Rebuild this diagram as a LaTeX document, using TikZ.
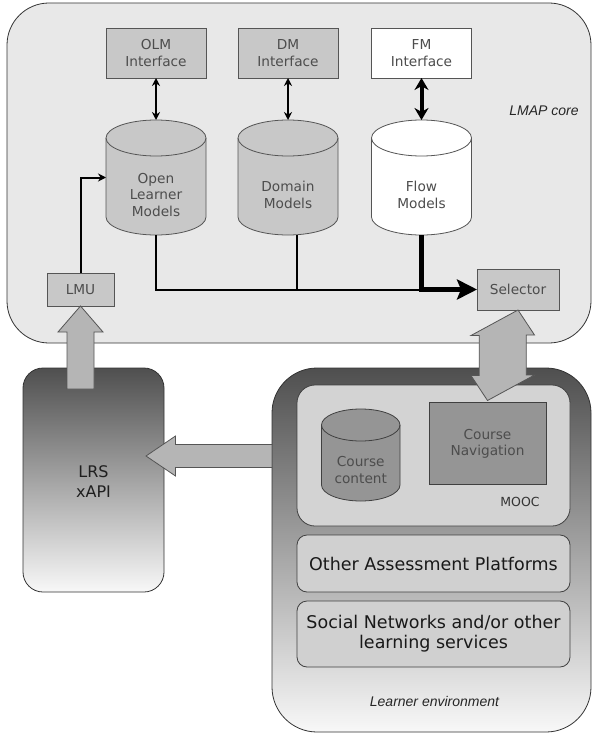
\documentclass[tikz,border=0pt]{standalone}
\usepackage{fontspec}
\setmainfont{DejaVu Sans}
\newfontfamily\lblfont{Liberation Sans}
\usetikzlibrary{arrows.meta,calc}

\definecolor{corefill}{HTML}{E8E8E8}
\definecolor{coreedge}{HTML}{333333}
\definecolor{boxfill}{HTML}{C8C8C8}
\definecolor{boxedge}{HTML}{555555}
\definecolor{boxtext}{HTML}{4D4D4D}
\definecolor{arrowfill}{HTML}{B5B5B5}
\definecolor{moocfill}{HTML}{D3D3D3}
\definecolor{platfill}{HTML}{D0D0D0}
\definecolor{darkfill}{HTML}{959595}
\definecolor{darkedge}{HTML}{404040}
\definecolor{gradtop}{HTML}{4F4F4F}
\definecolor{gradbot}{HTML}{F8F8F8}

% cylinder outline: left x, right x, top y, bottom y, ellipse y radius, fill colour, edge colour
\newcommand\dbcylinder[7]{%
  \pgfmathsetmacro\cylrx{(#2-#1)/2}%
  \filldraw[fill=#6, draw=#7, line width=0.8pt]
    (#1,#4-#5) arc[start angle=180,end angle=360,x radius=\cylrx pt,y radius=#5 pt]
    -- (#2,#3+#5) arc[start angle=0,end angle=180,x radius=\cylrx pt,y radius=#5 pt] -- cycle;
  \draw[#7, line width=0.8pt]
    (#1,#3+#5) arc[start angle=180,end angle=360,x radius=\cylrx pt,y radius=#5 pt];
}

\begin{document}
\begin{tikzpicture}[x=1pt,y=-1pt,
  every node/.style={inner sep=0pt, outer sep=0pt},
  txt/.style={font=\fontsize{13.7}{16.5}\selectfont, align=center, text=boxtext},
  ifbox/.style={txt, draw=boxedge, fill=boxfill, line width=0.8pt, minimum width=100pt, minimum height=50pt},
  smallbox/.style={txt, draw=boxedge, fill=boxfill, line width=0.8pt},
  region/.style={draw=coreedge, line width=0.8pt},
  shade/.style={region, top color=gradtop, bottom color=gradbot},
  platform/.style={draw=darkedge, fill=platfill, line width=0.8pt, rounded corners=10pt,
    minimum width=273pt, align=center, text=black!90,
    font=\fontsize{17.5}{20}\selectfont},
  cylhold/.style={minimum width=100pt, minimum height=115pt},
  blockarrow/.style={fill=arrowfill, draw=boxedge, line width=0.8pt, line join=miter},
  thinline/.style={line width=2pt},
  thickline/.style={line width=4.5pt},
  tag/.style={font=\lblfont\itshape\fontsize{14}{16}\selectfont, text=black!85}
]
\useasboundingbox (0,0) rectangle (592,733);

% ---------- LMAP core ----------
\node[region, fill=corefill, rounded corners=42pt, minimum width=584pt, minimum height=340pt,
      anchor=north west] (core) at (7,3) {};
\node[tag] (coretag) at (544,111) {LMAP core};

\node[ifbox] (olmi) at (156,53) {OLM\\Interface};
\node[ifbox] (dmi)  at (288,53) {DM\\Interface};
\node[ifbox, fill=white] (fmi) at (421.5,53) {FM\\Interface};

\dbcylinder{106}{206}{120}{235}{18}{boxfill}{boxedge}
\dbcylinder{238}{338}{120}{235}{18}{boxfill}{boxedge}
\dbcylinder{371.5}{471.5}{120}{235}{18}{white}{boxedge}
\node[cylhold] (olm) at (156,177.5) {};
\node[cylhold] (dm)  at (288,177.5) {};
\node[cylhold] (fm)  at (421.5,177.5) {};
\node[txt] (olmtxt) at (156,195) {Open\\Learner\\Models};
\node[txt] (dmtxt)  at (288,195) {Domain\\Models};
\node[txt] (fmtxt)  at (421.5,195) {Flow\\Models};

\node[smallbox, minimum width=82pt, minimum height=41pt] (selector) at (518,289.5) {Selector};
\node[smallbox, minimum width=67pt, minimum height=33pt] (lmu) at (80.5,289.5) {LMU};

% interface links
\draw[line width=1.8pt, {Stealth[length=8pt,width=8pt]}-{Stealth[length=8pt,width=8pt]}]
  (olmi.south) -- (olm.north);
\draw[line width=1.8pt, {Stealth[length=8pt,width=8pt]}-{Stealth[length=8pt,width=8pt]}]
  (dmi.south) -- (dm.north);
\draw[line width=4pt, {Stealth[length=12pt,width=14pt]}-{Stealth[length=12pt,width=14pt]}]
  (fmi.south) -- (fm.north);

% models feeding the selector
\coordinate (join) at (421.5,289.5);
\draw[thinline] (olm.south) |- (join);
\draw[thinline] ($(dm.south)+(9,0)$) -- ++(0,54.5);
\draw[thickline, -{Stealth[length=20pt,width=20pt,inset=4pt]}] (fm.south) |- (selector.west);

% LMU updates the open learner models
\draw[thinline, -{Stealth[length=8pt,width=8pt]}] (lmu.north) |- (olm.west);

% ---------- LRS ----------
\node[shade, rounded corners=20pt, minimum width=141pt, minimum height=224pt] (lrs) at (93.5,480) {};
\node[font=\fontsize{16}{20}\selectfont, align=center, text=black!88] (lrstxt) at (93.5,482) {LRS\\xAPI};

% ---------- Learner environment ----------
\node[shade, rounded corners=45pt, minimum width=319pt, minimum height=364pt,
      anchor=north west] (le) at (272,368) {};
\node[tag] (letag) at (434.5,701) {Learner environment};

\node[draw=darkedge, fill=moocfill, line width=0.8pt, rounded corners=18pt,
      minimum width=273pt, minimum height=141pt, anchor=north west] (mooc) at (297,385) {};
\node[font=\fontsize{12.5}{14}\selectfont, text=black!80] (mooctag) at (520,502) {MOOC};

\dbcylinder{321.5}{400}{409}{501}{16}{darkfill}{darkedge}
\node[minimum width=78.5pt, minimum height=92pt] (cc) at (360.75,455) {};
\node[txt] (cctxt) at (360.75,470) {Course\\content};

\node[txt, draw=darkedge, fill=darkfill, line width=0.8pt, minimum width=117pt, minimum height=82pt]
  (nav) at (487.5,443) {};
\node[txt] (navtxt) at (487.5,444) {Course\\Navigation};

\node[platform, minimum height=57pt] (oap) at (433.5,563.5) {Other Assessment Platforms};
\node[platform, minimum height=66pt] (soc) at (433.5,634) {Social Networks and/or other\\learning services};

% ---------- block arrows ----------
% learner environment reports to the LRS
\coordinate (lrsin) at (146,456);
\filldraw[blockarrow] (lrsin) -- ++(29.5,-20) -- ++(0,8.5) -- (le.west |- {(0,444.5)})
  -- (le.west |- {(0,467.5)}) -- ++(-96.5,0) -- ++(0,8.5) -- cycle;

% LRS feeds the LMU
\filldraw[blockarrow] (lmu.south) -- ++(22.5,26) -- ++(-9,0) -- ++(0,57) -- ++(-27,0)
  -- ++(0,-57) -- ++(-9,0) -- cycle;

% selector <-> course navigation
\filldraw[blockarrow] (selector.south) -- ++(16.5,25) -- ++(-8.2,0) -- ++(0,40) -- ++(8.2,0)
  -- ($(nav.north)+(0,-1.5)$) -- ++(-16.5,-25) -- ++(8.2,0) -- ++(0,-40) -- ++(-8.2,0) -- cycle;
\end{tikzpicture}
\end{document}
